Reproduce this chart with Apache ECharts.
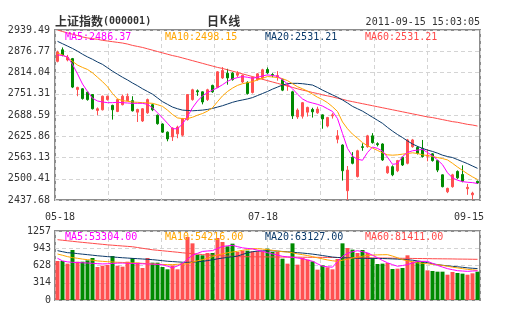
<!DOCTYPE html>
<html><head><meta charset="utf-8">
<script src="https://cdn.jsdelivr.net/npm/echarts@6/dist/echarts.min.js"></script>
<style>html,body{margin:0;padding:0;background:#fff}#c{width:505px;height:330px}</style>
</head><body><div id="c"></div>
<script>
const dates = ['05-18','05-19','05-20','05-23','05-24','05-25','05-26','05-27','05-30','05-31',
'06-01','06-02','06-03','06-07','06-08','06-09','06-10','06-13','06-14','06-15','06-16','06-17','06-20','06-21','06-22','06-23','06-24','06-27','06-28','06-29','06-30',
'07-01','07-04','07-05','07-06','07-07','07-08','07-11','07-12','07-13','07-14','07-15','07-18','07-19','07-20','07-21','07-22','07-25','07-26','07-27','07-28','07-29',
'08-01','08-02','08-03','08-04','08-05','08-08','08-09','08-10','08-11','08-12','08-15','08-16','08-17','08-18','08-19','08-22','08-23','08-24','08-25','08-26','08-29','08-30','08-31',
'09-01','09-02','09-05','09-06','09-07','09-08','09-09','09-13','09-14','09-15'];
const openP = [2847,2881,2851,2855,2764,2766,2756,2749,2702,2704,2734,2717,2699,2719,2731,2731,2697,2671,2695,2719,2688,2662,2638,2624,2633,2629,2675,2734,2760,2757,2734,2776,2770,2798,2812,2812,2806,2786,2785,2755,2793,2798,2823,2808,2800,2793,2775,2757,2683,2685,2697,2705,2695,2689,2656,2686,2617,2600,2465,2564,2507,2595,2595,2627,2604,2603,2518,2536,2524,2564,2546,2595,2593,2590,2567,2574,2554,2512,2462,2477,2522,2513,2471,2453,2493];
const closeP = [2874.6,2865,2859,2771,2770,2737,2734,2707,2707,2744,2744,2704,2734,2744,2744,2701,2705,2707,2734,2704,2663,2638,2618,2650,2653,2678,2749,2763,2757,2727,2763,2757,2816,2820,2798,2793,2812,2806,2752,2800,2810,2822,2813,2806,2805,2762,2777,2686,2703,2725,2711,2698,2706,2677,2681,2689,2627,2524,2526,2546,2583,2593,2627,2607,2601,2556,2536,2512,2554,2541,2615,2615,2575,2566,2570,2554,2526,2477,2472,2512,2503,2493,2475,2458,2488];
const lowP = [2844,2862,2847,2768,2744,2734,2731,2705,2688,2702,2731,2675,2697,2717,2729,2699,2668,2668,2692,2700,2660,2636,2611,2612,2620,2625,2672,2731,2745,2720,2730,2754,2768,2795,2778,2790,2800,2783,2749,2752,2790,2793,2810,2800,2790,2759,2760,2677,2677,2678,2684,2681,2692,2648,2652,2678,2605,2495,2437.68,2543,2504,2583,2592,2604,2596,2553,2515,2508,2520,2538,2543,2592,2572,2563,2552,2551,2520,2475,2458,2474,2500,2490,2453,2439,2485];
const highP = [2878.5,2888,2866,2857,2772,2768,2758,2750,2711,2746,2746,2719,2736,2749,2752,2744,2707,2709,2737,2722,2690,2664,2640,2652,2657,2680,2750,2766,2764,2758,2766,2778,2818,2830,2825,2815,2818,2808,2788,2802,2812,2825,2829,2812,2818,2796,2784,2760,2708,2727,2713,2710,2713,2690,2683,2694,2644,2602,2538,2579,2586,2605,2630,2635,2608,2605,2539,2540,2556,2566,2618,2618,2597,2615,2588,2576,2556,2513,2474,2515,2525,2540,2485,2462,2495];
const volume = [710,710,662,911,698,698,722,765,601,625,638,801,625,607,698,765,680,583,765,680,680,601,559,631,559,674,1148,1032,826,814,856,856,1129,1057,978,1026,874,899,899,887,887,887,935,874,874,753,662,1032,644,765,735,704,553,631,595,559,747,1032,947,917,856,911,856,765,656,662,674,565,571,583,814,704,704,692,540,528,516,516,461,510,492,480,461,486,516];
const ma5 = [2866,2864,2860,2838,2810,2780,2758,2738,2730,2727,2725,2725,2726,2725,2724,2723,2723,2723,2720,2710,2695,2680,2664,2648,2648,2662,2684,2710,2730,2745,2755,2762,2769,2778,2788,2795,2799,2802,2800,2797,2800,2804,2807,2805,2803,2793,2780,2766,2750,2736,2728,2724,2720,2715,2707,2699,2678,2634,2590,2567,2558,2555,2578,2594,2590,2582,2564,2543,2545,2566,2578,2583,2585,2587,2578,2568,2556,2542,2518,2503,2496,2492,2490,2489,2486.37];
const ma10 = [2871,2866,2858,2847,2836,2829,2823,2813,2800,2787,2772,2752,2736,2731,2729,2727,2726,2725,2724,2723,2719,2714,2703,2690,2680,2678,2678,2682,2688,2693,2700,2710,2728,2745,2758,2768,2776,2781,2784,2787,2792,2797,2802,2801,2799,2796,2790,2781,2772,2766,2759,2750,2741,2734,2725,2713,2699,2668,2648,2632,2620,2607,2598,2591,2584,2577,2571,2570,2571,2573,2575,2577,2575,2571,2569,2566,2563,2560,2556,2546,2535,2525,2515,2506,2498.15];
const ma20 = [2906,2899,2892,2885,2877,2868,2860,2853,2845,2838,2828,2818,2809,2800,2792,2783,2775,2766,2758,2750,2739,2728,2720,2712,2707,2703,2702,2701,2702,2703,2705,2708,2712,2716,2721,2726,2730,2733,2736,2740,2746,2752,2758,2765,2771,2777,2781,2782,2782,2781,2779,2777,2770,2762,2755,2748,2741,2733,2724,2714,2707,2700,2691,2682,2673,2664,2652,2641,2631,2622,2612,2603,2596,2590,2585,2581,2576,2570,2566,2563,2557,2551,2545,2538,2531.21];
const ma60 = [2939.49,2935,2931,2927,2923,2919,2916,2914,2912,2909,2907,2905,2903,2901,2898,2894,2891,2888,2884,2880,2876,2872,2868,2864,2861,2857,2853,2849,2845,2841,2837,2833,2829,2826,2822,2818,2814,2810,2806,2802,2798,2794,2790,2786,2782,2778,2774,2770,2766,2762,2759,2755,2752,2748,2745,2742,2738,2735,2731,2728,2725,2722,2719,2716,2713,2710,2707,2704,2701,2698,2695,2692,2689,2686,2683,2681,2678,2675,2672,2669,2667,2664,2661,2659,2656];
const vma5 = [760,712,695,686,682,678,674,668,662,657,660,666,672,673,670,665,662,660,657,654,650,642,615,588,620,665,745,815,850,885,893,899,940,975,988,995,972,950,940,930,908,888,862,840,818,796,786,777,765,754,730,705,660,615,605,598,700,795,850,880,898,880,860,815,770,720,678,645,615,628,645,675,704,704,704,668,631,600,571,552,534,528,522,528,533.04];
const vma10 = [838,815,790,772,760,745,735,725,712,704,698,692,687,684,680,675,673,668,662,656,652,648,644,645,650,654,660,690,715,735,760,790,820,840,860,875,887,905,920,935,935,928,918,905,892,880,874,860,840,826,810,790,768,750,730,715,704,725,745,765,780,798,814,818,822,825,826,800,770,735,715,695,676,668,660,650,644,630,615,598,585,572,558,550,542.16];
const vma20 = [899,880,862,856,845,835,826,816,806,798,790,784,777,770,764,758,753,747,741,735,726,716,706,700,694,688,686,690,696,704,718,732,750,763,776,788,800,830,860,880,890,895,898,895,890,884,878,870,862,855,846,836,824,810,796,782,775,770,766,763,760,759,758,758,757,756,753,749,745,740,733,725,712,698,680,660,645,633,622,613,605,596,586,578,572];
const vma60 = [1099,1089,1079,1069,1059,1050,1041,1032,1023,1014,1005,998,991,984,977,970,956,942,928,915,906,897,888,879,870,860,852,844,836,828,820,815,810,805,800,795,790,789,788,787,786,786,785,784,783,782,781,781,780,779,778,778,777,776,776,775,774,773,772,771,770,769,768,767,766,765,764,762,761,760,759,757,756,755,754,752,751,750,749,748,746,745,744,742,741];
const priceTicks = [2437.68,2500.41,2563.13,2625.86,2688.59,2751.31,2814.04,2876.77,2939.49];
const volTicks = [0,314,628,943,1257];
const shownDates = ['05-18','07-18','09-15'];
const priceMaLabels = ['MA5:2486.37','MA10:2498.15','MA20:2531.21','MA60:2531.21'];
const volMaLabels = ['MA5:53304.00','MA10:54216.00','MA20:63127.00','MA60:81411.00'];
const titleText = '上证指数';
const codeText = '(000001)';
const timeText = '2011-09-15 15:03:05';

const UP = '#ff5050', DOWN = '#008a00';
const maColors = ['#ff00ff', '#ffa500', '#0b3a6a', '#ff4a4a'];
const MONO = "'DejaVu Sans Mono', monospace";
const CJK = "'Noto Sans CJK SC', sans-serif";
const gridLine = {show: true, lineStyle: {color: '#d4d4d4', type: [4, 3], width: 1}};

const chart = echarts.init(document.getElementById('c'), null, {renderer: 'canvas'});
const candles = dates.map((d, i) => [openP[i], closeP[i], lowP[i], highP[i]]);
const volData = volume.map((v, i) => ({value: v, itemStyle: {color: closeP[i] >= openP[i] ? UP : DOWN}}));
const labelPad = {'05-18': [0,0,0,5], '07-18': [0,9,0,0], '09-15': [0,17,0,0]};

function maLine(data, color, xi, yi) {
  return {type: 'line', data: data, xAxisIndex: xi, yAxisIndex: yi, showSymbol: false, symbol: 'none',
    lineStyle: {width: 1, color: color}, itemStyle: {color: color}, animation: false, z: 3};
}
const graphics = [];
priceMaLabels.forEach((t, k) => graphics.push({type: 'text', x: 65 + 100 * k, y: 37, z: 10,
  style: {text: t, fill: maColors[k], fontFamily: MONO, fontSize: 10, verticalAlign: 'middle'}}));
volMaLabels.forEach((t, k) => graphics.push({type: 'text', x: 65 + 100 * k, y: 237, z: 10,
  style: {text: t, fill: maColors[k], fontFamily: MONO, fontSize: 10, verticalAlign: 'middle'}}));

chart.setOption({
  animation: false,
  backgroundColor: '#fff',
  title: [
    {text: '{a|' + titleText + '}{b|' + codeText + '}', left: 55, top: 15, padding: 0,
      textStyle: {rich: {a: {fontFamily: CJK, fontSize: 12, color: '#333'}, b: {fontFamily: MONO, fontSize: 10, color: '#333'}}}},
    {text: '{a|日}{k|K}{a|线}', left: 207, top: 15, padding: 0,
      textStyle: {rich: {a: {fontFamily: CJK, fontSize: 12, color: '#333'}, k: {fontFamily: MONO, fontSize: 12, fontWeight: 'bold', color: '#333', padding: [0, 1, 0, 1]}}}},
    {text: timeText, right: 25, top: 17, padding: 0, textStyle: {fontFamily: MONO, fontSize: 10, fontWeight: 'normal', color: '#333'}}
  ],
  grid: [
    {left: 55, top: 30, width: 425, height: 170, show: true, borderColor: '#8c8c8c', borderWidth: 2, backgroundColor: 'transparent'},
    {left: 55, top: 231, width: 425, height: 69, show: true, borderColor: '#8c8c8c', borderWidth: 2, backgroundColor: 'transparent'}
  ],
  xAxis: [
    {type: 'category', gridIndex: 0, data: dates, boundaryGap: true, axisLine: {show: false}, axisTick: {show: false}, splitLine: {show: false},
      axisLabel: {interval: (i, v) => shownDates.indexOf(v) >= 0, margin: 12, color: '#333', fontFamily: MONO, fontSize: 10,
        formatter: (v) => '{' + 'd' + shownDates.indexOf(v) + '|' + v + '}',
        rich: {d0: {padding: labelPad['05-18'], fontFamily: MONO, fontSize: 10, color: '#333'},
               d1: {padding: labelPad['07-18'], fontFamily: MONO, fontSize: 10, color: '#333'},
               d2: {padding: labelPad['09-15'], fontFamily: MONO, fontSize: 10, color: '#333'}}}},
    {type: 'category', gridIndex: 1, data: dates, boundaryGap: true, axisLine: {show: false}, axisTick: {show: false}, axisLabel: {show: false}, splitLine: {show: false}},
    {type: 'value', gridIndex: 0, min: 0, max: 8, interval: 1, axisLine: {show: false}, axisTick: {show: false}, axisLabel: {show: false}, splitLine: gridLine},
    {type: 'value', gridIndex: 1, min: 0, max: 8, interval: 1, axisLine: {show: false}, axisTick: {show: false}, axisLabel: {show: false}, splitLine: gridLine}
  ],
  yAxis: [
    {type: 'value', gridIndex: 0, min: priceTicks[0], max: priceTicks[priceTicks.length - 1], axisLine: {show: false}, axisTick: {show: false}, splitLine: {show: false},
      axisLabel: {customValues: priceTicks, formatter: (v) => v.toFixed(2), margin: 5, color: '#333', fontFamily: MONO, fontSize: 10}},
    {type: 'value', gridIndex: 1, min: volTicks[0], max: volTicks[volTicks.length - 1], axisLine: {show: false}, axisTick: {show: false}, splitLine: {show: false},
      axisLabel: {customValues: volTicks, formatter: (v) => String(v), margin: 4, color: '#333', fontFamily: MONO, fontSize: 10}},
    {type: 'value', gridIndex: 0, position: 'right', min: 0, max: 8, interval: 1, axisLine: {show: false}, axisTick: {show: false}, axisLabel: {show: false}, splitLine: gridLine},
    {type: 'value', gridIndex: 1, position: 'right', min: 0, max: 4, interval: 1, axisLine: {show: false}, axisTick: {show: false}, axisLabel: {show: false}, splitLine: gridLine}
  ],
  series: [
    {type: 'candlestick', xAxisIndex: 0, yAxisIndex: 0, data: candles, barWidth: 3, z: 2,
      itemStyle: {color: UP, color0: DOWN, borderColor: UP, borderColor0: DOWN, borderWidth: 1}},
    maLine(ma60, maColors[3], 0, 0), maLine(ma20, maColors[2], 0, 0), maLine(ma10, maColors[1], 0, 0), maLine(ma5, maColors[0], 0, 0),
    {type: 'bar', xAxisIndex: 1, yAxisIndex: 1, data: volData, barWidth: 4, z: 2},
    maLine(vma60, maColors[3], 1, 1), maLine(vma20, maColors[2], 1, 1), maLine(vma10, maColors[1], 1, 1), maLine(vma5, maColors[0], 1, 1)
  ],
  graphic: graphics
});
</script></body></html>
